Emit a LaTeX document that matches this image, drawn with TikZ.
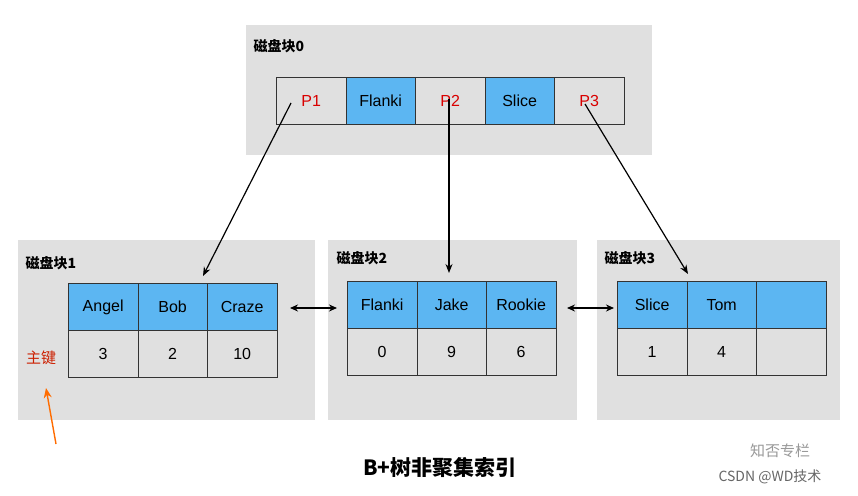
\documentclass[tikz,border=0pt]{standalone}
\usepackage{fontspec}
\usetikzlibrary{arrows.meta}
\setmainfont{Liberation Sans}
\newfontfamily\cjk{Noto Sans CJK SC}
\definecolor{bl}{HTML}{5CB6F2}
\begin{document}
\begin{tikzpicture}[x=1pt,y=-1pt,
 blk/.style={fill=black!12,draw=none},
 cell/.style={draw=black!80,line width=0.8pt,minimum width=69.5pt,minimum height=47pt,anchor=north west,inner sep=0pt,font=\fontsize{16}{16}\selectfont},
 hd/.style={cell,fill=bl},
 ptr/.style={cell,text=red!85!black},
 ttl/.style={anchor=west,font=\cjk\bfseries\fontsize{14}{14}\selectfont},
 arr/.style={-{Stealth[length=9pt,width=7pt]},line width=1.2pt},
 darr/.style={{Stealth[length=8pt,width=7pt]}-{Stealth[length=8pt,width=7pt]},line width=1.2pt}]
\useasboundingbox (0,0) rectangle (858,495);
\fill[white] (0,0) rectangle (858,495);
% block 0
\fill[blk] (246,25) rectangle (652,155);
\node[ttl] (t0) at (250,46) {磁盘块0};
\node[ptr] (p1) at (276,77) {P1};
\node[hd] (f0) at (345.5,77) {Flanki};
\node[ptr] (p2) at (415,77) {P2};
\node[hd] (s0) at (484.5,77) {Slice};
\node[ptr] (p3) at (554,77) {P3};
% block 1
\fill[blk] (18,240) rectangle (315,420);
\node[ttl] (t1) at (22,263) {磁盘块1};
\node[hd] (a1) at (68,283) {Angel};
\node[hd] (b1) at (137.5,283) {Bob};
\node[hd] (c1) at (207,283) {Craze};
\node[cell] (a1v) at (68,330) {3};
\node[cell] (b1v) at (137.5,330) {2};
\node[cell] (c1v) at (207,330) {10};
% block 2
\fill[blk] (328,240) rectangle (577,420);
\node[ttl] (t2) at (333,258) {磁盘块2};
\node[hd] (a2) at (347,281) {Flanki};
\node[hd] (b2) at (416.5,281) {Jake};
\node[hd] (c2) at (486,281) {Rookie};
\node[cell] (a2v) at (347,328) {0};
\node[cell] (b2v) at (416.5,328) {9};
\node[cell] (c2v) at (486,328) {6};
% block 3
\fill[blk] (597,240) rectangle (840,420);
\node[ttl] (t3) at (601,258) {磁盘块3};
\node[hd] (a3) at (617,281) {Slice};
\node[hd] (b3) at (686.5,281) {Tom};
\node[hd] (c3) at (756,281) {};
\node[cell] (a3v) at (617,328) {1};
\node[cell] (b3v) at (686.5,328) {4};
\node[cell] (c3v) at (756,328) {};
% pointers
\coordinate (s1) at (291,103);
\coordinate (e1) at (203,276);
\coordinate (s2) at (449,99);
\coordinate (e2) at (449,273);
\coordinate (s3) at (585,104);
\coordinate (e3) at (688,274);
\draw[arr] (s1) -- (e1);
\draw[arr] (s2) -- (e2);
\draw[arr] (s3) -- (e3);
\coordinate (l1) at (290,308); \coordinate (r1) at (337,308);
\coordinate (l2) at (567,308); \coordinate (r2) at (614,308);
\draw[darr] (l1) -- (r1);
\draw[darr] (l2) -- (r2);
% key
\node[font=\cjk\fontsize{15}{15}\selectfont,text=red!70!orange!80!black] (key) at (41,358) {主键};
\coordinate (ka) at (56,444);
\coordinate (kb) at (46,388);
\draw[-{Stealth[length=10pt,width=8pt]},line width=1.4pt,orange!85!red] (ka) -- (kb);
% title
\node[font=\cjk\bfseries\fontsize{21}{21}\selectfont] (title) at (440,467) {B+树非聚集索引};
\node[font=\cjk\fontsize{15}{15}\selectfont,text=black!40] (wm1) at (780,451) {知否专栏};
\node[font=\cjk\fontsize{14}{14}\selectfont,text=black!60] (wm2) at (770,477) {CSDN @WD技术};
\end{tikzpicture}
\end{document}
